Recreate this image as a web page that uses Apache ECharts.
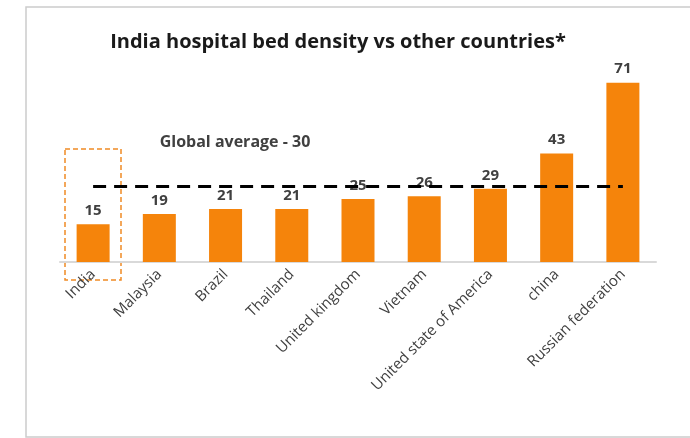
<!DOCTYPE html>
<html>
<head>
<meta charset="utf-8">
<title>India hospital bed density</title>
<script src="https://cdn.jsdelivr.net/npm/echarts@6/dist/echarts.min.js"></script>
<style>
  html, body { margin: 0; padding: 0; background: #fff; }
  #main { width: 690px; height: 438px; }
</style>
</head>
<body>
<div id="main"></div>
<script>
// 数据
var countries = ['India', 'Malaysia', 'Brazil', 'Thailand', 'United kingdom', 'Vietnam', 'United state of America', 'china', 'Russian federation'];
var bedDensity = [15, 19, 21, 21, 25, 26, 29, 43, 71];
var globalAverage = 30;

var chart = echarts.init(document.getElementById('main'));
var font = 'Open Sans';

var option = {
    animation: false,
    backgroundColor: '#fff',
    grid: { left: 60, right: 34, top: 60, bottom: 176 },
    xAxis: {
        type: 'category',
        data: countries,
        axisLine: { lineStyle: { color: '#d9d9d9', width: 2 } },
        axisTick: { show: false },
        axisLabel: {
            rotate: 45,
            interval: 0,
            margin: 10,
            color: '#404040',
            fontSize: 15,
            fontFamily: font
        }
    },
    yAxis: {
        type: 'value',
        min: 0,
        max: 80,
        show: false
    },
    series: [{
        type: 'bar',
        data: bedDensity,
        barWidth: 33,
        itemStyle: { color: '#f5840b' },
        label: {
            show: true,
            position: 'top',
            distance: 6,
            color: '#404040',
            fontSize: 15,
            fontWeight: 'bold',
            fontFamily: font
        },
        markLine: {
            silent: true,
            symbol: 'none',
            label: { show: false },
            lineStyle: { color: '#000', width: 3, type: [13, 8] },
            data: [[
                { coord: [countries[0], globalAverage] },
                { coord: [countries[countries.length - 1], globalAverage] }
            ]]
        }
    }],
    graphic: [
        // 外框
        {
            type: 'rect',
            shape: { x: 26, y: 7, width: 700, height: 430 },
            style: { fill: null, stroke: '#cccccc', lineWidth: 1.5 },
            silent: true
        },
        {
            type: 'text',
            x: 338, y: 42,
            style: {
                text: 'India hospital bed density vs other countries*',
                textAlign: 'center',
                textVerticalAlign: 'middle',
                fill: '#1a1a1a',
                font: 'bold 20px "Open Sans"'
            }
        },
        {
            type: 'text',
            x: 235, y: 142,
            style: {
                text: 'Global average - 30',
                textAlign: 'center',
                textVerticalAlign: 'middle',
                fill: '#404040',
                font: 'bold 16px "Open Sans"'
            }
        },
        // India 虚线框
        {
            type: 'rect',
            shape: { x: 65, y: 149, width: 56, height: 131 },
            style: { fill: null, stroke: '#f08a24', lineWidth: 1.5, lineDash: [5, 3] },
            silent: true
        }
    ]
};
chart.setOption(option);
</script>
</body>
</html>
